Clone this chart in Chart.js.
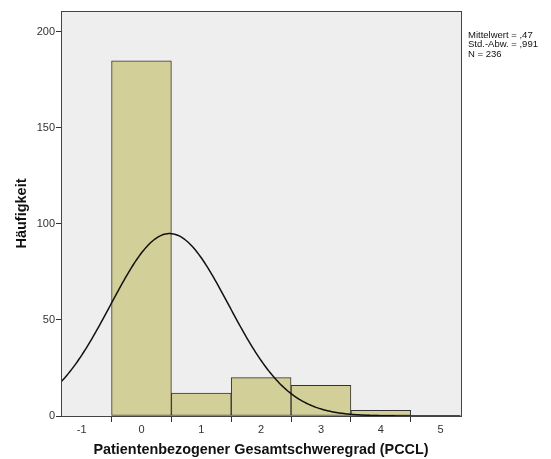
<!DOCTYPE html>
<html>
<head>
<meta charset="utf-8">
<script src="https://cdn.jsdelivr.net/npm/chart.js@4"></script>
<style>
  html, body { margin: 0; padding: 0; background: #fff; }
  #wrap { width: 551px; height: 459px; }
</style>
</head>
<body>
<div id="wrap"><canvas id="hist"></canvas></div>
<script>
// PCCL-Werte und Häufigkeiten
var pcclWerte = [0, 1, 2, 3, 4];
var haeufigkeit = [185, 12, 20, 16, 3];
var yTicks = [0, 50, 100, 150, 200];
var xTicks = [-1, 0, 1, 2, 3, 4, 5];

// Kennwerte aus der Statistik-Box
var mittelwert = 0.47;
var stdAbw = 0.991;
var nFaelle = 236;
var statText = ["Mittelwert = ,47", "Std.-Abw. = ,991", "N = 236"];

var xMin = -1.345, xMax = 5.34;
var yMax = 210.9;

// Normalverteilungskurve, skaliert auf N * Klassenbreite
function normalKurve() {
  var pts = [];
  var k = nFaelle / (stdAbw * Math.sqrt(2 * Math.PI));
  for (var x = xMin; x <= xMax + 0.001; x += 0.025) {
    var z = (x - mittelwert) / stdAbw;
    pts.push({ x: x, y: k * Math.exp(-0.5 * z * z) });
  }
  return pts;
}

var balken = pcclWerte.map(function (v, i) { return { x: v, y: haeufigkeit[i] }; });

const rahmenPlugin = {
  id: 'rahmen',
  beforeDraw(chart) {
    const { ctx, chartArea: a } = chart;
    ctx.save();
    ctx.fillStyle = '#eeeeee';
    ctx.fillRect(a.left, a.top, a.right - a.left, a.bottom - a.top);
    ctx.restore();
  },
  afterDraw(chart) {
    const { ctx, chartArea: a } = chart;
    ctx.save();
    ctx.strokeStyle = '#444';
    ctx.lineWidth = 1;
    ctx.strokeRect(a.left + 0.5, a.top + 0.5, a.right - a.left, a.bottom - a.top);
    ctx.fillStyle = '#111';
    ctx.font = '9.5px "Liberation Sans", Arial, sans-serif';
    ctx.textBaseline = 'middle';
    statText.forEach(function (t, i) {
      ctx.fillText(t, a.right + 7, 35 + i * 9.8);
    });
    ctx.restore();
  }
};

const tickFont = { family: '"Liberation Sans", Arial, sans-serif', size: 11 };

new Chart(document.getElementById('hist'), {
  type: 'bar',
  data: {
    datasets: [{
      type: 'line',
      data: normalKurve(),
      borderColor: '#111',
      borderWidth: 1.5,
      pointRadius: 0,
      tension: 0,
      order: 0
    }, {
      type: 'bar',
      data: balken,
      backgroundColor: '#d3cf98',
      borderColor: '#333',
      borderWidth: 1,
      borderSkipped: false,
      barPercentage: 1,
      categoryPercentage: 1,
      order: 1
    }]
  },
  options: {
    responsive: true,
    maintainAspectRatio: false,
    animation: false,
    layout: { padding: { top: 11, right: 90, left: 13, bottom: 0 } },
    plugins: { legend: { display: false }, tooltip: { enabled: false } },
    scales: {
      x: {
        type: 'linear',
        offset: false,
        min: xMin,
        max: xMax,
        afterBuildTicks(scale) { scale.ticks = xTicks.map(function (v) { return { value: v }; }); },
        afterFit(scale) { scale.height = 43; },
        ticks: { font: tickFont, color: '#333', padding: 1, maxRotation: 0 },
        grid: { drawOnChartArea: false, tickLength: 6, color: '#333' },
        border: { display: true, color: '#444' },
        title: {
          display: true,
          text: 'Patientenbezogener Gesamtschweregrad (PCCL)',
          font: { family: '"Liberation Sans", Arial, sans-serif', size: 14.4, weight: 'bold' },
          color: '#111',
          padding: { top: 4, bottom: 0 }
        }
      },
      y: {
        min: 0,
        max: yMax,
        afterBuildTicks(scale) { scale.ticks = yTicks.map(function (v) { return { value: v }; }); },
        afterFit(scale) { scale.width = 48; },
        ticks: { font: tickFont, color: '#333', padding: 1 },
        grid: { drawOnChartArea: false, tickLength: 5, color: '#333' },
        border: { display: true, color: '#444' },
        title: {
          display: true,
          text: 'Häufigkeit',
          font: { family: '"Liberation Sans", Arial, sans-serif', size: 14.5, weight: 'bold' },
          color: '#111',
          padding: { top: 0, bottom: 10 }
        }
      }
    }
  },
  plugins: [rahmenPlugin]
});
</script>
</body>
</html>
